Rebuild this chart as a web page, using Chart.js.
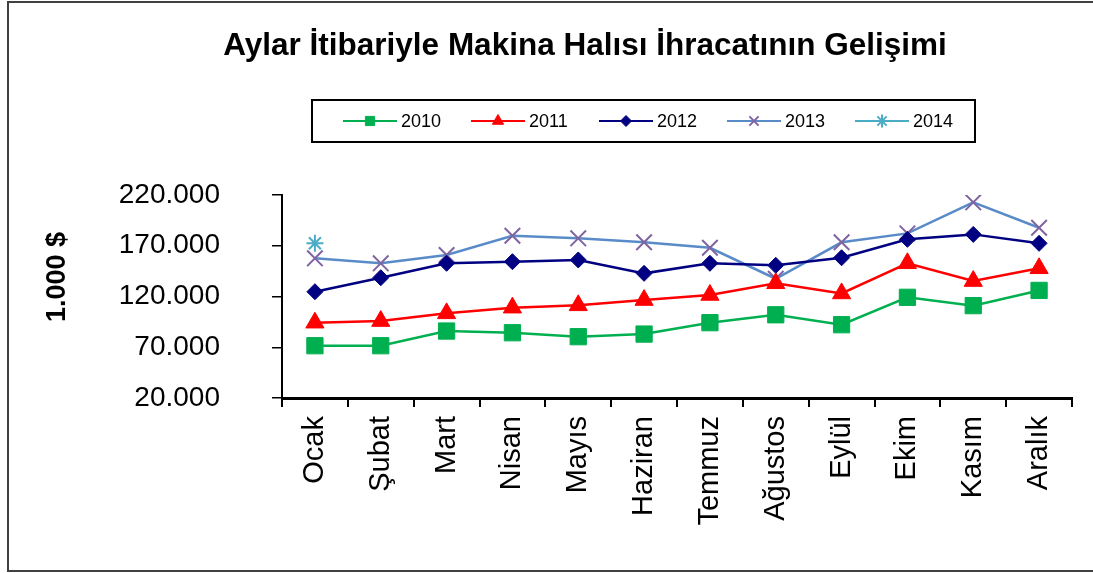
<!DOCTYPE html>
<html>
<head>
<meta charset="utf-8">
<script src="https://cdn.jsdelivr.net/npm/chart.js@4/dist/chart.umd.min.js"></script>
<style>
  body { margin: 0; background: #fff; }
  canvas { display: block; }
</style>
</head>
<body>
<canvas id="myChart" width="1093" height="573"></canvas>
<script>
const months = ['Ocak', 'Şubat', 'Mart', 'Nisan', 'Mayıs', 'Haziran', 'Temmuz', 'Ağustos', 'Eylül', 'Ekim', 'Kasım', 'Aralık']
const yTicks = [20000, 70000, 120000, 170000, 220000]

// 1.000 $ values
const y2010 = [71500, 71500, 86000, 84300, 80400, 83000, 94200, 102000, 92200, 119200, 111000, 126000]
const y2011 = [94200, 95800, 103400, 109000, 111300, 116500, 121500, 133000, 123000, 152700, 135200, 147800]
const y2012 = [124700, 138500, 152700, 154300, 156000, 142800, 152700, 150700, 158200, 176300, 181200, 172400]
const y2013 = [157600, 152700, 160900, 179900, 177300, 173400, 168000, 137500, 173400, 182200, 212800, 187700]
const y2014 = [172400, null, null, null, null, null, null, null, null, null, null, null]

const titleText = 'Aylar İtibariyle Makina Halısı İhracatının Gelişimi'
const yTitle = '1.000 $'
const FONT = "'Liberation Sans', Arial, sans-serif"

Chart.defaults.font.family = FONT
Chart.defaults.color = '#000'

function fmt(v) {
    return String(v).replace(/\B(?=(\d{3})+(?!\d))/g, '.')
}

// frame, title, y title and legend box
let decor = {
    id: 'decor',
    beforeDraw(chart) {
        let c = chart.ctx
        c.save()
        c.strokeStyle = '#404040'
        c.lineWidth = 2
        c.strokeRect(8, 2, 1100, 569)
        c.restore()
    },
    afterDraw(chart) {
        let c = chart.ctx
        c.save()
        c.fillStyle = '#000'
        c.font = 'bold 31.5px ' + FONT
        c.textAlign = 'center'
        c.textBaseline = 'middle'
        c.fillText(titleText, 585, 46)

        c.save()
        c.translate(58, 277)
        c.rotate(-Math.PI / 2)
        c.font = 'bold 27px ' + FONT
        c.fillText(yTitle, 0, 0)
        c.restore()

        // legend
        c.strokeStyle = '#000'
        c.lineWidth = 2
        c.strokeRect(312, 100, 663, 42)
        let ly = 121
        chart.data.datasets.forEach((ds, i) => {
            let cx = 370 + i * 128
            c.strokeStyle = ds.borderColor
            c.lineWidth = 2
            c.beginPath()
            c.moveTo(cx - 27, ly)
            c.lineTo(cx + 27, ly)
            c.stroke()
            c.fillStyle = ds.pointBackgroundColor
            c.strokeStyle = ds.pointBorderColor
            c.lineWidth = ds.pointBorderWidth
            Chart.helpers.drawPoint(c, { pointStyle: ds.pointStyle, radius: ds.legendRadius, borderWidth: ds.pointBorderWidth }, cx, ly)
            c.fillStyle = '#000'
            c.font = '18px ' + FONT
            c.textAlign = 'left'
            c.fillText(ds.label, cx + 31, ly + 1)
        })
        c.restore()
    }
}

let graphData = {
    type: 'line',
    data: {
        labels: months,
        datasets: [{
            label: '2010',
            data: y2010,
            borderColor: '#00B050',
            pointBackgroundColor: '#00B050',
            pointBorderColor: '#00B050',
            pointBorderWidth: 1,
            pointStyle: 'rect',
            pointRadius: 11.5,
            legendRadius: 6.5,
            borderWidth: 2.5
        }, {
            label: '2011',
            data: y2011,
            borderColor: '#FF0000',
            pointBackgroundColor: '#FF0000',
            pointBorderColor: '#FF0000',
            pointBorderWidth: 1,
            pointStyle: 'triangle',
            pointRadius: 10.5,
            legendRadius: 6.5,
            borderWidth: 2.5
        }, {
            label: '2012',
            data: y2012,
            borderColor: '#000080',
            pointBackgroundColor: '#000080',
            pointBorderColor: '#000080',
            pointBorderWidth: 1,
            pointStyle: 'rectRot',
            pointRadius: 8,
            legendRadius: 5.5,
            borderWidth: 2.5
        }, {
            label: '2013',
            data: y2013,
            borderColor: '#5A8BC9',
            pointBackgroundColor: '#8064A2',
            pointBorderColor: '#8064A2',
            pointBorderWidth: 2,
            pointStyle: 'crossRot',
            pointRadius: 11,
            legendRadius: 6.5,
            borderWidth: 2.5
        }, {
            label: '2014',
            data: y2014,
            borderColor: '#4BACC6',
            pointBackgroundColor: '#4BACC6',
            pointBorderColor: '#4BACC6',
            pointBorderWidth: 2,
            pointStyle: 'star',
            pointRadius: 8.5,
            legendRadius: 6.5,
            borderWidth: 2.5
        }]
    },
    options: {
        responsive: false,
        animation: false,
        layout: { padding: { top: 195, right: 21, bottom: 0, left: 0 } },
        plugins: {
            legend: { display: false },
            title: { display: false },
            tooltip: { enabled: false }
        },
        elements: { line: { tension: 0 } },
        scales: {
            x: {
                type: 'category',
                offset: true,
                grid: { offset: true, drawOnChartArea: false, tickLength: 9, color: '#000', lineWidth: 2 },
                border: { color: '#000', width: 3 },
                ticks: { maxRotation: 90, minRotation: 90, padding: 9, color: '#000', font: { size: 29 } },
                afterFit(s) { s.height = 175 }
            },
            y: {
                min: 20000,
                max: 220000,
                afterBuildTicks(s) { s.ticks = yTicks.map(v => ({ value: v })) },
                grid: { drawOnChartArea: false, tickLength: 10, color: '#000', lineWidth: 1.5 },
                border: { color: '#000', width: 2 },
                ticks: { padding: 52, color: '#000', font: { size: 28 }, callback: v => fmt(v) },
                afterFit(s) { s.width = 282 }
            }
        }
    },
    plugins: [decor]
}

let ctx = document.querySelector('#myChart')
let myChart = new Chart(ctx, graphData)
</script>
</body>
</html>
